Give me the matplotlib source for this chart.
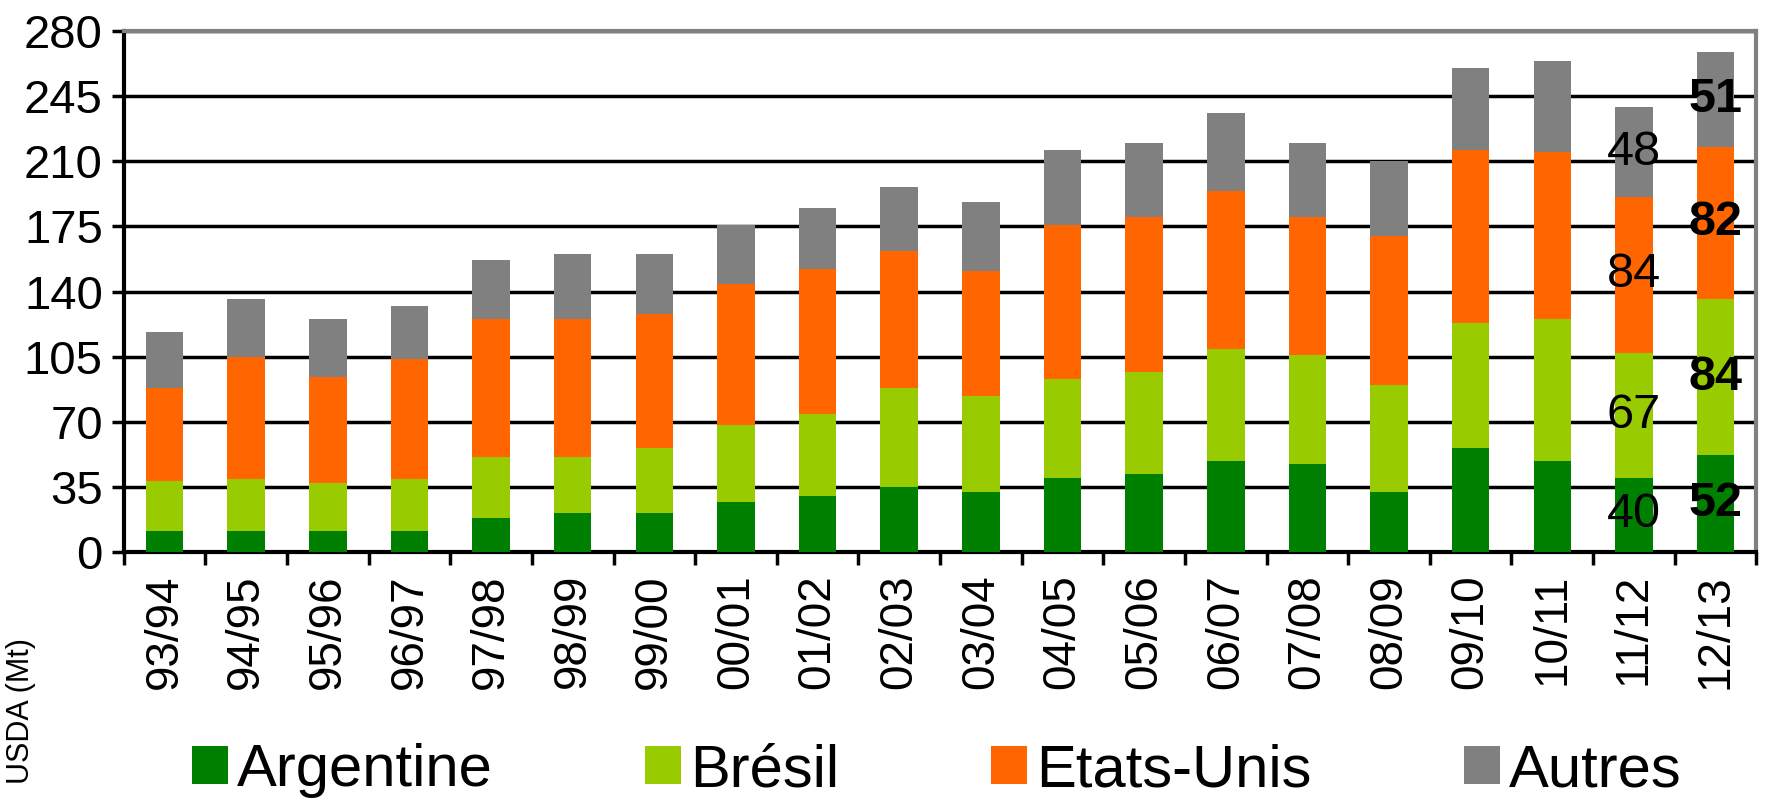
import matplotlib
matplotlib.use("Agg")
import matplotlib.pyplot as plt
import numpy as np

plt.rcParams['font.family'] = ['Liberation Sans', 'DejaVu Sans']

# campagnes
seasons = ["93/94", "94/95", "95/96", "96/97", "97/98", "98/99", "99/00", "00/01",
           "01/02", "02/03", "03/04", "04/05", "05/06", "06/07", "07/08", "08/09",
           "09/10", "10/11", "11/12", "12/13"]

# production (Mt)
argentine = [11, 11, 11, 11, 18, 21, 21, 27, 30, 35, 32, 40, 42, 49, 47, 32, 56, 49, 40, 52]
bresil = [27, 28, 26, 28, 33, 30, 35, 41, 44, 53, 52, 53, 55, 60, 59, 58, 67, 76, 67, 84]
etats_unis = [50, 66, 57, 65, 74, 74, 72, 76, 78, 74, 67, 83, 83, 85, 74, 80, 93, 90, 84, 82]
autres = [30, 31, 31, 28, 32, 35, 32, 32, 33, 34, 37, 40, 40, 42, 40, 40, 44, 49, 48, 51]

series_names = ["Argentine", "Brésil", "Etats-Unis", "Autres"]
colors = ["#008000", "#99cc00", "#ff6600", "#808080"]

y_ticks = [0, 35, 70, 105, 140, 175, 210, 245, 280]

fig = plt.figure(figsize=(17.67, 8.01), dpi=100)
ax = fig.add_axes([0.070, 0.311, 0.924, 0.650])

x = np.arange(len(seasons))
bottom = np.zeros(len(seasons))
all_series = [argentine, bresil, etats_unis, autres]
for vals, name, col in zip(all_series, series_names, colors):
    ax.bar(x, vals, width=0.46, bottom=bottom, color=col, label=name, zorder=3)
    bottom = bottom + np.array(vals)

# data labels on the last two seasons
for i, weight in [(18, 'normal'), (19, 'bold')]:
    base = 0
    for vals in all_series:
        v = vals[i]
        ax.text(x[i], base + v / 2, str(v), ha='center', va='center',
                fontsize=35, fontweight=weight, color='black', zorder=5)
        base += v

ax.set_xlim(-0.5, len(seasons) - 0.5)
ax.set_ylim(0, 280)
ax.set_yticks(y_ticks)
ax.set_yticklabels([str(t) for t in y_ticks], fontsize=34)
ax.yaxis.grid(True, color='black', linewidth=2.5)
ax.set_axisbelow(True)

ax.set_xticks(x)
ax.set_xticklabels(seasons, rotation=90, fontsize=33)
ax.set_xticks(np.arange(-0.5, len(seasons)), minor=True)
ax.tick_params(axis='x', which='major', length=0, pad=16)
ax.tick_params(axis='x', which='minor', length=9, width=2.5, direction='out')
ax.tick_params(axis='y', length=9, width=2.5, direction='out', pad=6)

for side in ['left', 'bottom']:
    ax.spines[side].set_linewidth(3)
    ax.spines[side].set_color('black')
for side in ['top', 'right']:
    ax.spines[side].set_linewidth(3)
    ax.spines[side].set_color('#808080')

fig.legend(loc='center', bbox_to_anchor=(0.095, 0.0, 0.87, 0.075), mode='expand',
           ncol=4, frameon=False, fontsize=43, handlelength=0.6, handleheight=0.6,
           handletextpad=0.15, borderaxespad=0)

fig.text(0.012, 1 - 638 / 801, "USDA (Mt)", rotation=90, ha='center',
         va='top', fontsize=22)

fig.savefig("out.png", dpi=100)
